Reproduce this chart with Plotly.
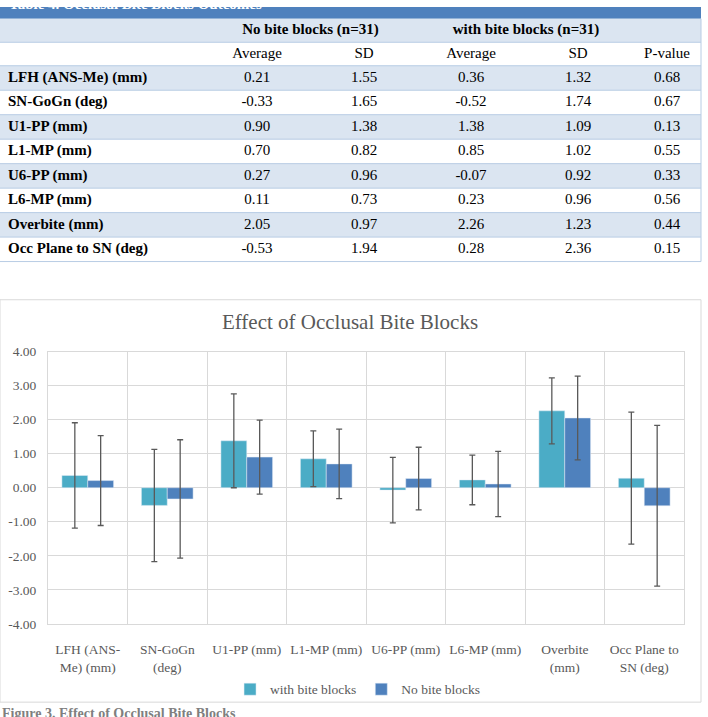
import plotly.graph_objects as go

# ---------------- data ----------------
categories = ["LFH (ANS-Me) (mm)", "SN-GoGn (deg)", "U1-PP (mm)", "L1-MP (mm)",
              "U6-PP (mm)", "L6-MP (mm)", "Overbite (mm)", "Occ Plane to SN (deg)"]
chart_labels = ["LFH (ANS-<br>Me) (mm)", "SN-GoGn<br>(deg)", "U1-PP (mm)", "L1-MP (mm)",
                "U6-PP (mm)", "L6-MP (mm)", "Overbite<br>(mm)", "Occ Plane to<br>SN (deg)"]
no_avg = [0.21, -0.33, 0.90, 0.70, 0.27, 0.11, 2.05, -0.53]
no_sd = [1.55, 1.65, 1.38, 0.82, 0.96, 0.73, 0.97, 1.94]
with_avg = [0.36, -0.52, 1.38, 0.85, -0.07, 0.23, 2.26, 0.28]
with_sd = [1.32, 1.74, 1.09, 1.02, 0.92, 0.96, 1.23, 2.36]
p_values = [0.68, 0.67, 0.13, 0.55, 0.33, 0.56, 0.44, 0.15]
# error bars as drawn in the figure (the SD columns are swapped there)
with_err = no_sd
no_err = with_sd
group_headers = ["No bite blocks (n=31)", "with bite blocks (n=31)"]
col_headers = ["Average", "SD", "Average", "SD", "P-value"]
y_tick_vals = [-4, -3, -2, -1, 0, 1, 2, 3, 4]
y_tick_text = ["-4.00", "-3.00", "-2.00", "-1.00", "0.00", "1.00", "2.00", "3.00", "4.00"]
table_title = "Table 4. Occlusal Bite Blocks Outcomes"
chart_title = "Effect of Occlusal Bite Blocks"
figure_caption = "Figure 3. Effect of Occlusal Bite Blocks"

# ---------------- layout constants ----------------
W, H = 708, 717
FONT = "Liberation Serif"
GRAY = "#595959"
LIGHT = "#DBE5F1"
DARK = "#4F81BD"
LINE = "#B8CCE4"
TABLE_H = 262
TABLE_R = 701
col_centers = [257, 364, 471, 578, 667]
group_centers = [310.5, 526]
label_x = 8
title_bar = (0, 12)
hdr1 = (12, 36)
hdr2 = (36, 60)
row_top0 = 60
row_h = 25


def py(px):
    return 1 - px / H


fig = go.Figure()

# ---------------- table (on hidden axes x2/y2, pixel-like units) ----------------
shapes = []
shapes.append(dict(type="rect", xref="x2", yref="y2", x0=0, x1=TABLE_R, y0=title_bar[0], y1=title_bar[1],
                   fillcolor=DARK, line_width=0, layer="below"))
shapes.append(dict(type="rect", xref="x2", yref="y2", x0=0, x1=TABLE_R, y0=hdr1[0], y1=hdr1[1],
                   fillcolor=LIGHT, line_width=0, layer="below"))
n_rows = len(categories)
for i in range(n_rows):
    if i % 2 == 0:
        shapes.append(dict(type="rect", xref="x2", yref="y2", x0=0, x1=TABLE_R,
                           y0=row_top0 + i * row_h, y1=row_top0 + (i + 1) * row_h,
                           fillcolor=LIGHT, line_width=0, layer="below"))
for yb in [hdr1[1], hdr2[1]] + [row_top0 + (i + 1) * row_h for i in range(n_rows)]:
    shapes.append(dict(type="line", xref="x2", yref="y2", x0=0, x1=TABLE_R, y0=yb, y1=yb,
                       line=dict(color=LINE, width=1)))
shapes.append(dict(type="line", xref="x2", yref="y2", x0=TABLE_R, x1=TABLE_R, y0=hdr1[0],
                   y1=row_top0 + n_rows * row_h, line=dict(color=LINE, width=1)))

row_centers = [row_top0 + (i + 0.5) * row_h for i in range(n_rows)]

fig.add_trace(go.Scatter(
    x=group_centers, y=[(hdr1[0] + hdr1[1]) / 2] * 2, mode="text",
    text=["<b>%s</b>" % g for g in group_headers], textposition="middle center",
    textfont=dict(family=FONT, size=15, color="black"),
    xaxis="x2", yaxis="y2", showlegend=False, hoverinfo="skip", cliponaxis=False))
fig.add_trace(go.Scatter(
    x=col_centers, y=[(hdr2[0] + hdr2[1]) / 2] * len(col_headers), mode="text",
    text=col_headers, textposition="middle center",
    textfont=dict(family=FONT, size=15, color="black"),
    xaxis="x2", yaxis="y2", showlegend=False, hoverinfo="skip", cliponaxis=False))
fig.add_trace(go.Scatter(
    x=[label_x] * n_rows, y=row_centers, mode="text",
    text=["<b>%s</b>" % c for c in categories], textposition="middle right",
    textfont=dict(family=FONT, size=15, color="black"),
    xaxis="x2", yaxis="y2", showlegend=False, hoverinfo="skip", cliponaxis=False))
for cx, col in zip(col_centers, [no_avg, no_sd, with_avg, with_sd, p_values]):
    fig.add_trace(go.Scatter(
        x=[cx] * n_rows, y=row_centers, mode="text",
        text=["%.2f" % v for v in col], textposition="middle center",
        textfont=dict(family=FONT, size=15, color="black"),
        xaxis="x2", yaxis="y2", showlegend=False, hoverinfo="skip", cliponaxis=False))

# ---------------- chart ----------------
fig.add_trace(go.Bar(
    name="with bite blocks", x=chart_labels, y=with_avg, marker_color="#4BACC6",
    error_y=dict(type="data", array=with_err, color=GRAY, thickness=1.3, width=3),
    hoverinfo="skip"))
fig.add_trace(go.Bar(
    name="No bite blocks", x=chart_labels, y=no_avg, marker_color="#4F81BD",
    error_y=dict(type="data", array=no_err, color=GRAY, thickness=1.3, width=3),
    hoverinfo="skip"))

# chart frame
shapes.append(dict(type="rect", xref="paper", yref="paper", x0=0, x1=701 / W, y0=py(710), y1=py(299),
                   line=dict(color="#D9D9D9", width=1), fillcolor="rgba(0,0,0,0)", layer="below"))

annotations = [
    dict(text="<b>%s</b>" % table_title, xref="paper", yref="paper", x=7 / W, y=py(-3.5),
         xanchor="left", yanchor="middle", showarrow=False,
         font=dict(family=FONT, size=15, color="white")),
    dict(text="<b>%s</b>" % figure_caption, xref="paper", yref="paper", x=0, y=py(722),
         xanchor="left", yanchor="middle", showarrow=False,
         font=dict(family=FONT, size=14, color="#7F7F7F")),
]

fig.update_layout(
    width=W, height=H, margin=dict(l=0, r=0, t=0, b=0),
    paper_bgcolor="white", plot_bgcolor="white",
    font=dict(family=FONT, color=GRAY),
    barmode="group", bargap=0.35, bargroupgap=0,
    title=dict(text=chart_title, x=350 / W, xanchor="center", y=py(322), yanchor="middle",
               font=dict(family=FONT, size=21, color=GRAY)),
    showlegend=True,
    legend=dict(orientation="h", x=0.505, xanchor="center", y=py(697), yanchor="middle",
                font=dict(family=FONT, size=13.5, color=GRAY), itemwidth=30,
                bgcolor="rgba(0,0,0,0)", traceorder="normal"),
    xaxis=dict(domain=[48 / W, 684 / W], type="category", tickson="boundaries",
               showgrid=True, gridcolor="#D9D9D9", gridwidth=1, ticks="",
               showline=True, linecolor="#D9D9D9", mirror=True, tickangle=0,
               tickfont=dict(family=FONT, size=13.5, color=GRAY), ticklabelstandoff=13,
               anchor="y"),
    yaxis=dict(domain=[py(630), py(352)], range=[-4, 4], tickvals=y_tick_vals, ticktext=y_tick_text,
               showgrid=True, gridcolor="#D9D9D9", gridwidth=1, zeroline=True,
               zerolinecolor="#D9D9D9", zerolinewidth=1, showline=True, linecolor="#D9D9D9",
               mirror=True, ticks="", tickfont=dict(family=FONT, size=13.5, color=GRAY),
               ticklabelstandoff=8, anchor="x"),
    xaxis2=dict(domain=[0, 1], range=[0, W], visible=False, fixedrange=True, anchor="y2"),
    yaxis2=dict(domain=[py(TABLE_H), 1], range=[TABLE_H, 0], visible=False, fixedrange=True, anchor="x2"),
    shapes=shapes, annotations=annotations,
)

fig.write_html("out.html")
